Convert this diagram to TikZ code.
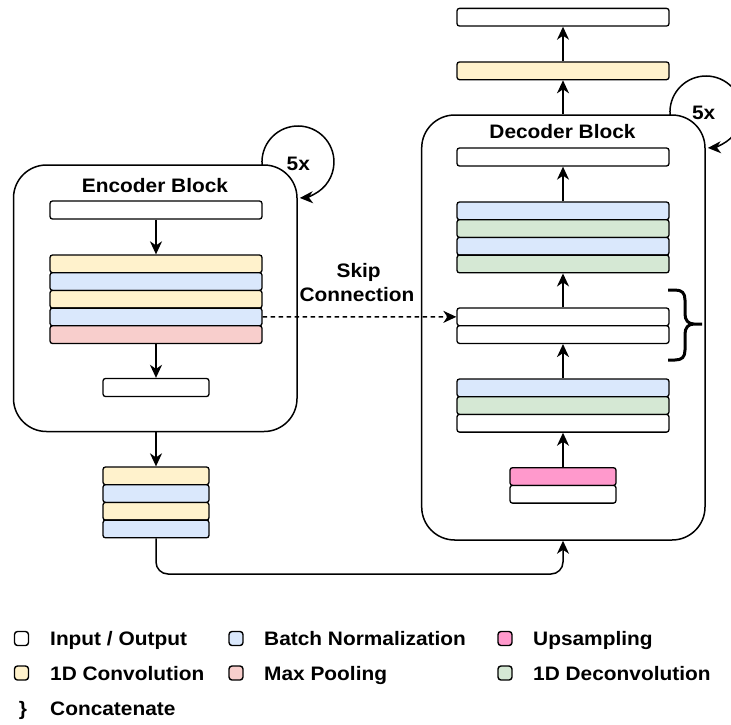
\documentclass[tikz,border=0pt]{standalone}
\usepackage{fontspec}
\setmainfont{Liberation Sans}[FakeStretch=1.07]
\usetikzlibrary{arrows.meta}

\definecolor{convfill}{HTML}{FFF2CC}
\definecolor{bnfill}{HTML}{DAE8FC}
\definecolor{poolfill}{HTML}{F8CECC}
\definecolor{deconvfill}{HTML}{D5E8D4}
\definecolor{upfill}{HTML}{FF99CC}

\tikzset{
  lbl/.style={font=\fontsize{19.5}{23}\selectfont\bfseries, inner sep=0pt},
  bar/.style={draw=black, line width=1.3pt, rounded corners=2.5pt, inner sep=0pt,
    minimum width=212pt, minimum height=17.7pt},
  shortbar/.style={bar, minimum width=106pt},
  io/.style={fill=white},
  conv/.style={fill=convfill},
  bn/.style={fill=bnfill},
  pool/.style={fill=poolfill},
  deconv/.style={fill=deconvfill},
  ups/.style={fill=upfill},
  blockbox/.style={draw=black, line width=1.5pt, rounded corners=33pt, inner sep=0pt},
  conn/.style={draw=black, line width=1.5pt, -{Stealth[length=13pt,width=12pt,inset=4pt]}},
  keybox/.style={draw=black, line width=1.4pt, rounded corners=3pt, inner sep=0pt,
    minimum width=14pt, minimum height=14pt},
}

\begin{document}
\begin{tikzpicture}[x=1pt, y=-1pt]
\useasboundingbox (0,0) rectangle (731,724);
\clip (0,0) rectangle (731,724);

% ---------------- encoder ----------------
\node[blockbox, minimum width=283.5pt, minimum height=266.5pt] (enc) at (155.25,298.25) {};
\node[lbl, anchor=base] (enctitle) at (155,192.3) {Encoder Block};

\node[bar, io, minimum height=18pt] (ein) at (156,210) {};
\node[bar, conv] (e1) at (156,263.85) {};
\node[bar, bn]   (e2) at (156,281.55) {};
\node[bar, conv] (e3) at (156,299.25) {};
\node[bar, bn]   (e4) at (156,316.95) {};
\node[bar, pool] (e5) at (156,334.65) {};
\node[shortbar, io, minimum height=18pt] (eout) at (156,387.5) {};

\draw[conn] (ein.south) -- (e1.north);
\draw[conn] (e5.south) -- (eout.north);

% repeat loop of the encoder
\coordinate (encloop) at (262.1,165);
\draw[conn] (encloop) arc[start angle=175.2, end angle=447, radius=36];
\node[lbl, anchor=base] (encrep) at (298.3,170.7) {5x};

% ---------------- bottleneck ----------------
\node[shortbar, conv] (b1) at (156,475.85) {};
\node[shortbar, bn]   (b2) at (156,493.55) {};
\node[shortbar, conv] (b3) at (156,511.25) {};
\node[shortbar, bn]   (b4) at (156,528.95) {};

\draw[conn] (b1.north |- enc.south) -- (b1.north);

% ---------------- decoder ----------------
\node[blockbox, minimum width=283.3pt, minimum height=425pt] (dec) at (563.35,327.5) {};
\node[lbl, anchor=base] (dectitle) at (562.5,138.5) {Decoder Block};

\node[bar, io]   (dout)  at (563,17.2) {};
\node[bar, conv] (dconv) at (563,70.8) {};

\node[bar, io, minimum height=18pt] (dtop) at (563,157) {};
\node[bar, bn]     (s1) at (563,210.85) {};
\node[bar, deconv] (s2) at (563,228.55) {};
\node[bar, bn]     (s3) at (563,246.25) {};
\node[bar, deconv] (s4) at (563,263.95) {};

\node[bar, io] (c1) at (563,316.85) {};
\node[bar, io] (c2) at (563,334.55) {};

\node[bar, bn]     (t1) at (563,387.85) {};
\node[bar, deconv] (t2) at (563,405.55) {};
\node[bar, io]     (t3) at (563,423.25) {};

\node[shortbar, ups] (p1) at (563,476.55) {};
\node[shortbar, io]  (p2) at (563,494.25) {};

\draw[conn] (dconv.north) -- (dout.south);
\draw[conn] (dconv.south |- dec.north) -- (dconv.south);
\draw[conn] (s1.north) -- (dtop.south);
\draw[conn] (c1.north) -- (s4.south);
\draw[conn] (t1.north) -- (c2.south);
\draw[conn] (p1.north) -- (t3.south);

% concatenation brace
\draw[line width=3pt, line cap=butt]
  (668,290) -- (675,290) .. controls (682,290) and (685,293) .. (685,300)
  -- (685,314) .. controls (685,320) and (688,324) .. (694,324) -- (702,324)
  (694,324) .. controls (688,324) and (685,328) .. (685,334)
  -- (685,350) .. controls (685,357) and (682,360) .. (675,360) -- (668,360);

% repeat loop of the decoder
\coordinate (decloop) at (670.1,115);
\draw[conn] (decloop) arc[start angle=175.2, end angle=447, radius=36];
\node[lbl, anchor=base] (decrep) at (703.7,119.3) {5x};

% ---------------- links between the blocks ----------------
\draw[conn, dashed, dash pattern=on 4.5pt off 3.5pt] (e4.east) -- (c1.west);
\node[lbl, anchor=base] (skip1) at (358.7,277) {Skip};
\node[lbl, anchor=base] (skip2) at (357,301.7) {Connection};

\coordinate (turn) at (563,574);
\draw[conn, rounded corners=12pt] (b4.south) |- (turn) -- (turn |- dec.south);

% ---------------- legend ----------------
\node[keybox, io]     (k1) at (21.5,638.5) {};
\node[lbl, anchor=base west] (k1t) at (50,645) {Input / Output};
\node[keybox, bn]     (k2) at (236,638.5) {};
\node[lbl, anchor=base west] (k2t) at (264,645) {Batch Normalization};
\node[keybox, ups]    (k3) at (505,638.5) {};
\node[lbl, anchor=base west] (k3t) at (533,645) {Upsampling};

\node[keybox, conv]   (k4) at (21.5,673) {};
\node[lbl, anchor=base west] (k4t) at (50,680) {1D Convolution};
\node[keybox, pool]   (k5) at (236,673) {};
\node[lbl, anchor=base west] (k5t) at (264,680) {Max Pooling};
\node[keybox, deconv] (k6) at (505,673) {};
\node[lbl, anchor=base west] (k6t) at (533,680) {1D Deconvolution};

\node[lbl, anchor=base] (k7) at (23,715.5) {\}};
\node[lbl, anchor=base west] (k7t) at (50,715.5) {Concatenate};
\end{tikzpicture}
\end{document}
